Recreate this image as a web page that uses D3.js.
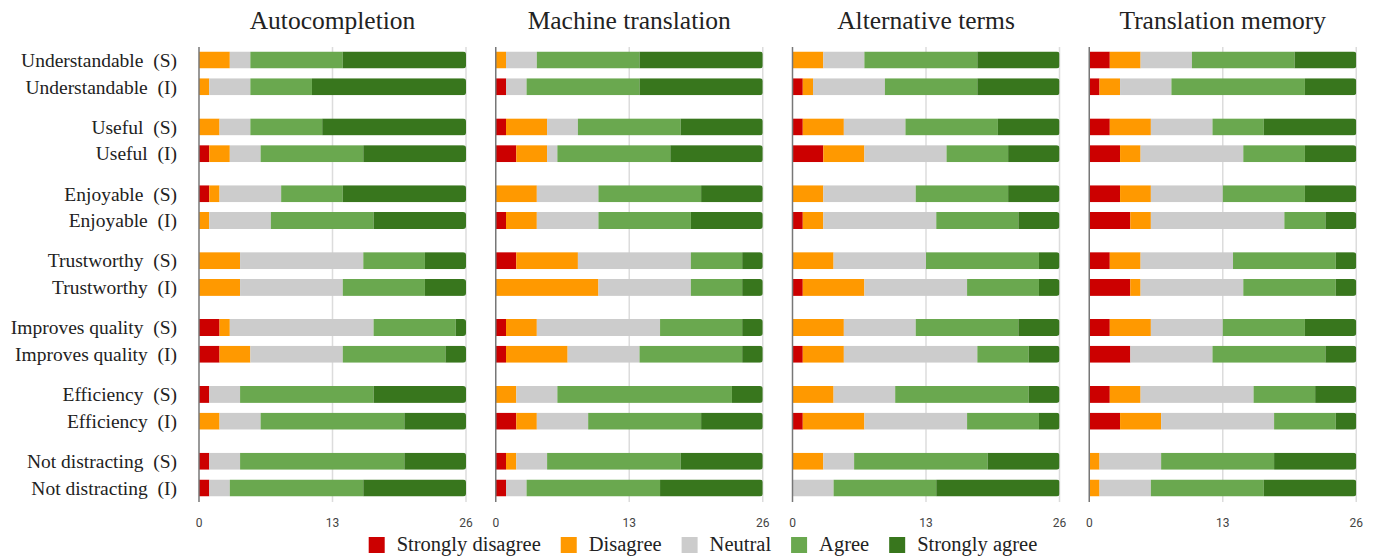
<!doctype html>
<html>
<head>
<meta charset="UTF-8">
<title>Likert chart</title>
<script src="https://cdn.jsdelivr.net/npm/d3@7"></script>
<style>
  body { margin: 0; background: #fff; }
  svg text { font-family: "Liberation Serif", "Times New Roman", serif; fill: #222; }
  .tick-label { font-family: Roboto, "Liberation Sans", Arial, sans-serif; font-size: 12px; fill: #444; }
</style>
</head>
<body>
<div id="chart"></div>
<script>
var width = 1377, height = 557;

var panels = ["Autocompletion", "Machine translation", "Alternative terms", "Translation memory"];
var categories = ["Understandable", "Useful", "Enjoyable", "Trustworthy", "Improves quality", "Efficiency", "Not distracting"];
var groups = ["S", "I"];
var answers = ["Strongly disagree", "Disagree", "Neutral", "Agree", "Strongly agree"];
var colors = ["#cc0000", "#ff9900", "#cccccc", "#6aa84f", "#38761d"];
var ticks = [0, 13, 26];

// counts per row: [strongly disagree, disagree, neutral, agree, strongly agree]
var autocompletion = [
  [0,3,2,9,12], [0,1,4,6,15],
  [0,2,3,7,14], [1,2,3,10,10],
  [1,1,6,6,12], [0,1,6,10,9],
  [0,4,12,6,4], [0,4,10,8,4],
  [2,1,14,8,1], [2,3,9,10,2],
  [1,0,3,13,9], [0,2,4,14,6],
  [1,0,3,16,6], [1,0,2,13,10]
];
var machineTranslation = [
  [0,1,3,10,12], [1,0,2,11,12],
  [1,4,3,10,8], [2,3,1,11,9],
  [0,4,6,10,6], [1,3,6,9,7],
  [2,6,11,5,2], [0,10,9,5,2],
  [1,3,12,8,2], [1,6,7,10,2],
  [0,2,4,17,3], [2,2,5,11,6],
  [1,1,3,13,8], [1,0,2,13,10]
];
var alternativeTerms = [
  [0,3,4,11,8], [1,1,7,9,8],
  [1,4,6,9,6], [3,4,8,6,5],
  [0,3,9,9,5], [1,2,11,8,4],
  [0,4,9,11,2], [1,6,10,7,2],
  [0,5,7,10,4], [1,4,13,5,3],
  [0,4,6,13,3], [1,6,10,7,2],
  [0,3,3,13,7], [0,0,4,10,12]
];
var translationMemory = [
  [2,3,5,10,6], [1,2,5,13,5],
  [2,4,6,5,9], [3,2,10,6,5],
  [3,3,7,8,5], [4,2,13,4,3],
  [2,3,9,10,2], [4,1,10,9,2],
  [2,4,7,8,5], [4,0,8,11,3],
  [2,3,11,6,4], [3,4,11,6,2],
  [0,1,6,11,8], [0,1,5,11,9]
];
var panelData = [autocompletion, machineTranslation, alternativeTerms, translationMemory];

var svg = d3.select("#chart").append("svg")
    .attr("width", width)
    .attr("height", height);

// rows: each category has S and I, with half a row of space between pairs
var rows = [];
categories.forEach(function (c, ci) {
    groups.forEach(function (g, gi) {
        rows.push({ label: c + "  (" + g + ")", slot: ci * 2.5 + gi });
    });
});

var y = d3.scaleLinear().domain([0, 16]).range([60, 488]);
var barH = 17;

var panelX = d3.scaleBand().domain(panels).range([199, 1386]).paddingInner(0);
var panelW = 267;

// row labels
svg.append("g").selectAll("text")
    .data(rows)
    .enter().append("text")
    .attr("x", 177)
    .attr("y", function (d) { return y(d.slot); })
    .attr("dy", "0.35em")
    .attr("text-anchor", "end")
    .style("font-size", "19.5px")
    .style("white-space", "pre")
    .text(function (d) { return d.label; });

var defs = svg.append("defs");

panels.forEach(function (p, pi) {
    var x0 = panelX(p);
    var x = d3.scaleLinear().domain([0, 26]).range([x0, x0 + panelW]);
    var g = svg.append("g");

    g.append("text")
        .attr("x", x(13))
        .attr("y", 29)
        .attr("text-anchor", "middle")
        .style("font-size", "25.5px")
        .text(p);

    // grid
    g.selectAll(".grid")
        .data(ticks.slice(1))
        .enter().append("line")
        .attr("x1", function (d) { return x(d); })
        .attr("x2", function (d) { return x(d); })
        .attr("y1", 47)
        .attr("y2", 502)
        .style("stroke", "#dcdcdc")
        .style("stroke-width", 1.5);

    g.selectAll(".tick-label")
        .data(ticks)
        .enter().append("text")
        .attr("class", "tick-label")
        .attr("x", function (d) { return x(d); })
        .attr("y", 527)
        .attr("text-anchor", "middle")
        .text(function (d) { return d; });

    var data = panelData[pi];

    data.forEach(function (vals, ri) {
        var id = "clip-" + pi + "-" + ri;
        var total = d3.sum(vals);
        defs.append("clipPath").attr("id", id)
            .append("rect")
            .attr("x", x(0) - 6)
            .attr("y", y(rows[ri].slot) - barH / 2)
            .attr("width", x(total) - x(0) + 6)
            .attr("height", barH)
            .attr("rx", 3);

        var start = 0;
        var segs = vals.map(function (v, k) {
            var s = { k: k, x0: start, x1: start + v };
            start += v;
            return s;
        }).filter(function (s) { return s.x1 > s.x0; });

        g.append("g")
            .attr("clip-path", "url(#" + id + ")")
            .selectAll("rect")
            .data(segs)
            .enter().append("rect")
            .attr("x", function (d) { return x(d.x0); })
            .attr("width", function (d) { return x(d.x1) - x(d.x0); })
            .attr("y", y(rows[ri].slot) - barH / 2)
            .attr("height", barH)
            .style("fill", function (d) { return colors[d.k]; });
    });

    g.append("line")
        .attr("x1", x(0))
        .attr("x2", x(0))
        .attr("y1", 47)
        .attr("y2", 502)
        .style("stroke", "#777")
        .style("stroke-width", 1.5);
});

// legend
var legend = svg.append("g");
var items = legend.selectAll("g")
    .data(answers)
    .enter().append("g");
items.append("rect")
    .attr("width", 16)
    .attr("height", 16)
    .attr("y", -14)
    .style("fill", function (d, i) { return colors[i]; });
items.append("text")
    .attr("x", 28)
    .style("font-size", "20.5px")
    .text(function (d) { return d; });

var lx = 0;
items.each(function () {
    var w = d3.select(this).select("text").node().getComputedTextLength();
    d3.select(this).attr("transform", "translate(" + lx + ",0)");
    lx += 28 + w + 20;
});
lx -= 20;
legend.attr("transform", "translate(" + (703 - lx / 2) + ",551)");
</script>
</body>
</html>
